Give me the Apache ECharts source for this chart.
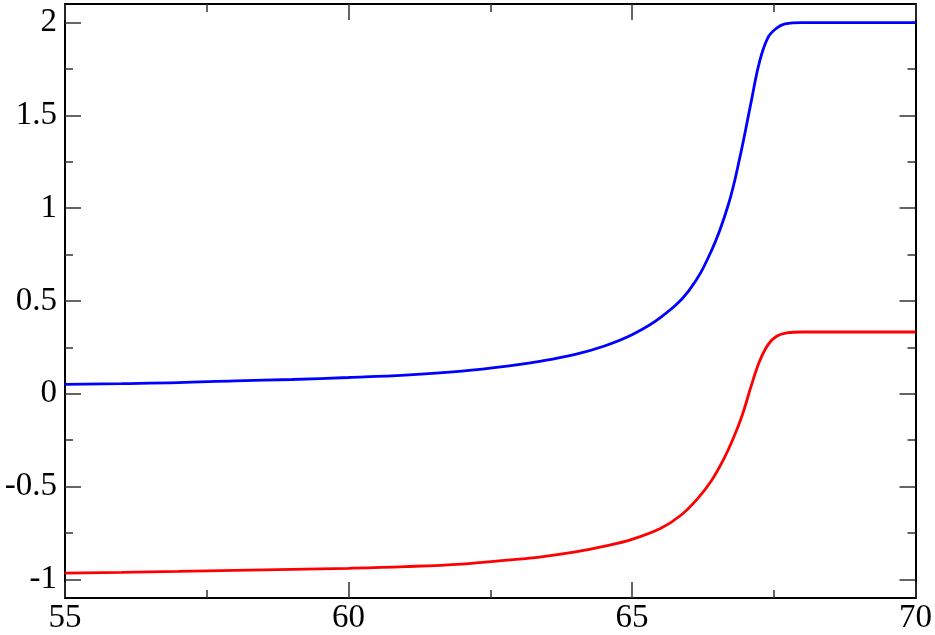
<!DOCTYPE html>
<html>
<head>
<meta charset="utf-8">
<script src="https://cdn.jsdelivr.net/npm/echarts@6/dist/echarts.min.js"></script>
<style>
html,body{margin:0;padding:0;background:#fff;}
#chart{width:935px;height:635px;}
</style>
</head>
<body>
<div id="chart"></div>
<script>
// Blue curve: [x, y]
const blueX = [55, 56, 57, 58, 59, 60, 61, 62, 62.8, 63.4, 64, 64.5, 65, 65.5, 66, 66.4, 66.7, 66.9, 67.1, 67.25, 67.4, 67.55, 67.7, 68, 69, 70];
const blueY = [0.051, 0.055, 0.060, 0.070, 0.077, 0.088, 0.101, 0.122, 0.149, 0.176, 0.212, 0.256, 0.318, 0.410, 0.555, 0.770, 1.020, 1.270, 1.570, 1.790, 1.920, 1.970, 1.993, 2.000, 2.000, 2.000];
// Red curve: [x, y]
const redX = [55, 56, 57, 58, 59, 60, 61, 62, 62.8, 63.4, 64, 64.5, 65, 65.5, 65.85, 66.15, 66.4, 66.62, 66.8, 66.95, 67.1, 67.25, 67.4, 67.55, 67.73, 68, 69, 70];
const redY = [-0.966, -0.962, -0.957, -0.951, -0.946, -0.940, -0.931, -0.917, -0.896, -0.878, -0.852, -0.822, -0.784, -0.726, -0.657, -0.567, -0.468, -0.350, -0.230, -0.110, 0.040, 0.175, 0.265, 0.310, 0.328, 0.333, 0.333, 0.333];

const xTickLabels = [55, 60, 65, 70];
const yMajorTicks = [-1, -0.5, 0, 0.5, 1, 1.5, 2];
const yMinorTicks = [-0.75, -0.25, 0.25, 0.75, 1.25, 1.75];

const FONT = 'Liberation Serif';
const chart = echarts.init(document.getElementById('chart'));

function xAx(pos, showLabel) {
  return {
    type: 'value', position: pos, min: 55, max: 70, interval: 5,
    axisLine: { show: true, onZero: false, lineStyle: { color: '#000', width: 2 } },
    axisTick: { show: true, inside: true, length: 16, lineStyle: { color: '#333', width: 1.5 } },
    minorTick: { show: true, splitNumber: 2, length: 8, lineStyle: { color: '#333', width: 1.5 } },
    splitLine: { show: false },
    axisLabel: {
      show: showLabel, fontFamily: FONT, fontSize: 33, color: '#000', margin: 4,
      showMinLabel: true, showMaxLabel: true,
      formatter: v => xTickLabels.indexOf(v) >= 0 ? String(v) : ''
    }
  };
}
function yAx(pos, vals, len, showLabel, showLine) {
  return {
    type: 'value', position: pos, min: -1.1, max: 2.1,
    axisLine: { show: showLine, onZero: false, lineStyle: { color: '#000', width: 2 } },
    axisTick: { show: true, inside: true, length: len, customValues: vals, lineStyle: { color: '#333', width: 1.5 } },
    splitLine: { show: false },
    axisLabel: {
      show: showLabel, customValues: yMajorTicks, fontFamily: FONT, fontSize: 33, color: '#000', margin: 8,
      formatter: v => String(v)
    }
  };
}

chart.setOption({
  animation: false,
  backgroundColor: '#fff',
  grid: { left: 65, right: 19, top: 4, bottom: 36.5 },
  xAxis: [xAx('bottom', true), xAx('top', false)],
  yAxis: [
    yAx('left', yMajorTicks, 16, true, true),
    yAx('left', yMinorTicks, 8, false, false),
    yAx('right', yMajorTicks, 16, false, true),
    yAx('right', yMinorTicks, 8, false, false)
  ],
  series: [
    {
      type: 'line', xAxisIndex: 0, yAxisIndex: 0, showSymbol: false,
      smooth: 0.4,
      lineStyle: { color: '#0000ff', width: 2.8 },
      data: blueX.map((x, i) => [x, blueY[i]])
    },
    {
      type: 'line', xAxisIndex: 0, yAxisIndex: 0, showSymbol: false,
      smooth: 0.4,
      lineStyle: { color: '#ff0000', width: 2.8 },
      data: redX.map((x, i) => [x, redY[i]])
    }
  ]
});
</script>
</body>
</html>
